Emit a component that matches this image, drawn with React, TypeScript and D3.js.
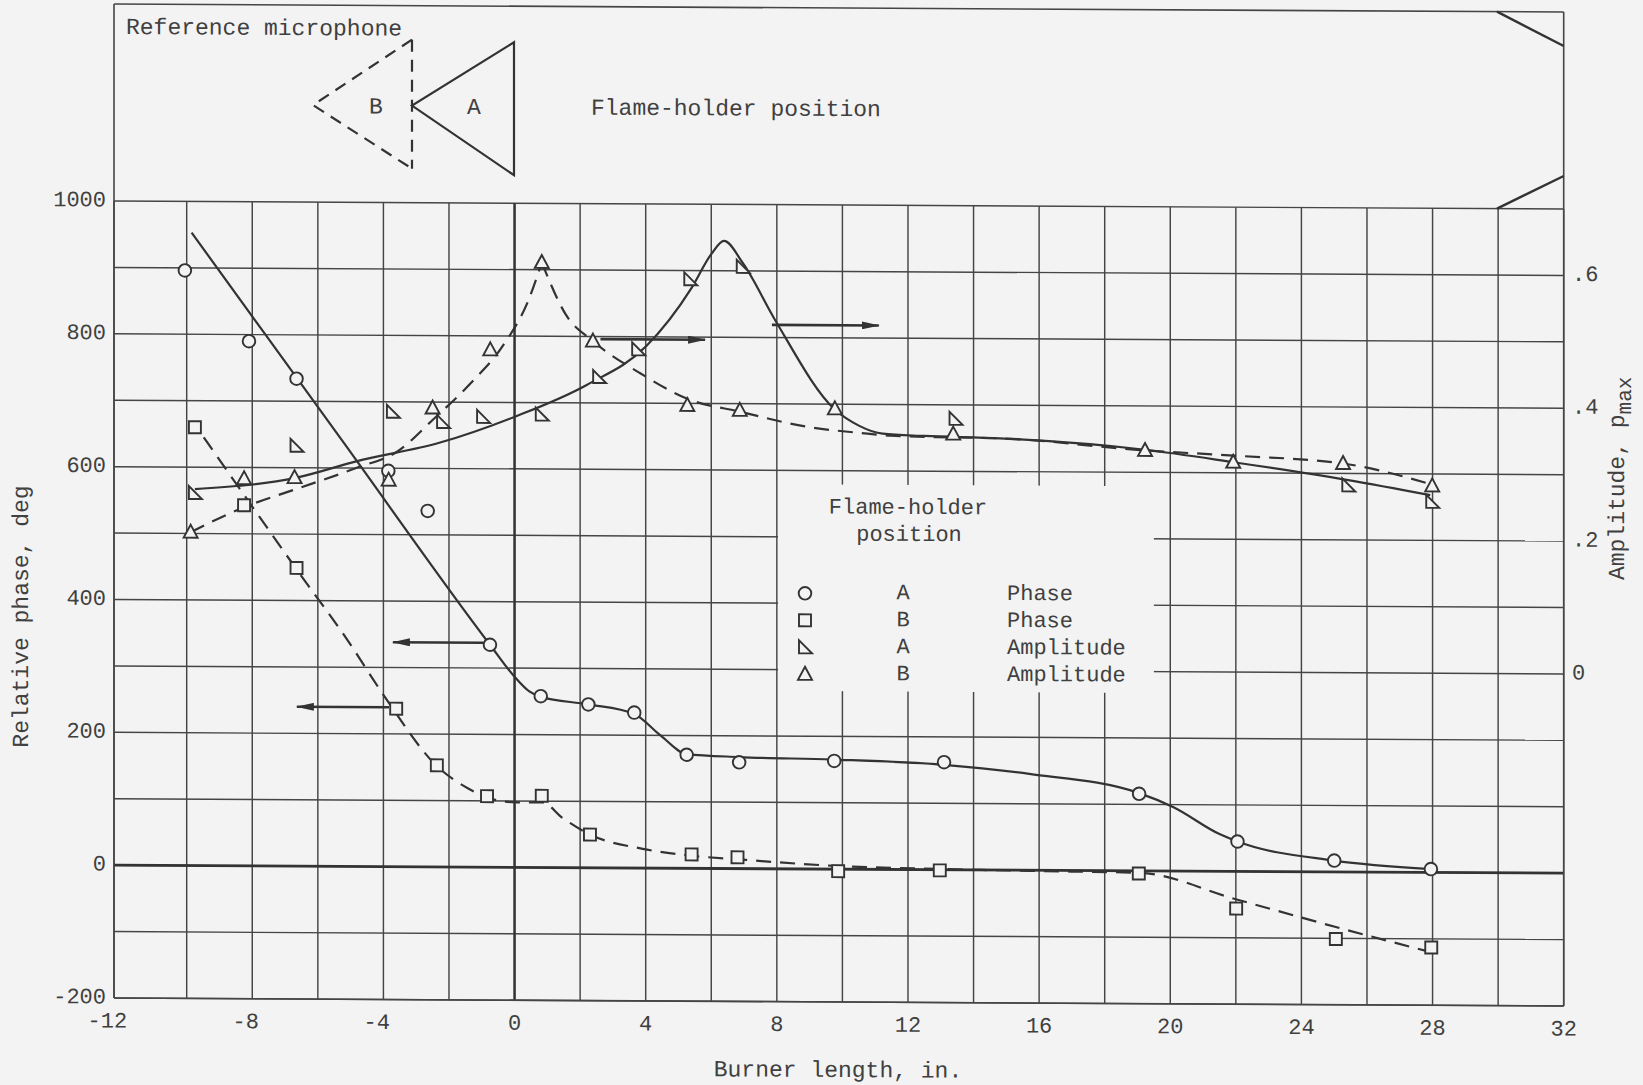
import React from "react";
import * as d3 from "d3";

const WIDTH = 1643;
const HEIGHT = 1085;

// Axis ticks
const xTickValues = [-12, -8, -4, 0, 4, 8, 12, 16, 20, 24, 28, 32];
const phaseTickValues = [-200, 0, 200, 400, 600, 800, 1000];
const ampTickValues = [0, 0.2, 0.4, 0.6];
const ampTickLabels = ["0", ".2", ".4", ".6"];

// Measured relative phase, flame holder at A (circles)
const phaseAX = [-10.05, -8.1, -6.65, -3.85, -2.65, -0.75, 0.8, 2.25, 3.65, 5.25, 6.85, 9.75, 13.1, 19.05, 22.05, 25.0, 27.95];
const phaseAY = [896, 790, 734, 596, 536, 335, 258, 246, 234, 171, 160, 163, 162, 116, 45, 17, 5];

// Measured relative phase, flame holder at B (squares)
const phaseBX = [-9.75, -8.25, -6.65, -3.61, -2.37, -0.84, 0.83, 2.3, 5.4, 6.8, 9.87, 12.97, 19.04, 22.01, 25.05, 27.96];
const phaseBY = [660, 543, 449, 238, 153, 107, 108, 50, 21, 17, -3, -1, -4, -56, -101, -113];

// Measured amplitude, flame holder at A (right triangles)
const ampAX = [-9.75, -6.65, -3.71, -2.18, -0.96, 0.83, 2.58, 3.77, 5.36, 6.96, 13.45, 25.43, 27.99];
const ampAY = [0.261, 0.333, 0.385, 0.37, 0.378, 0.382, 0.439, 0.481, 0.587, 0.606, 0.379, 0.282, 0.258];

// Measured amplitude, flame holder at B (triangles)
const ampBX = [-9.88, -8.25, -6.71, -3.84, -2.5, -0.74, 0.83, 2.39, 5.27, 6.87, 9.77, 13.38, 19.23, 21.92, 25.27, 27.99];
const ampBY = [0.202, 0.283, 0.285, 0.282, 0.391, 0.479, 0.611, 0.493, 0.397, 0.39, 0.393, 0.356, 0.333, 0.316, 0.315, 0.282];

// Faired curves
const phaseAFitX = [-9.85, -5.3, -0.75, 0.0, 0.45, 0.8, 2.25, 3.65, 4.45, 5.25, 6.85, 9.7, 13.1, 15.7, 19.05, 20.1, 21.5, 22.05, 25.0, 27.95];
const phaseAFitY = [953, 644, 335, 287, 265, 257, 246, 232, 200, 172, 168, 165, 158, 145, 117, 96, 56, 45, 17, 5];

const phaseBFitX = [-9.48, -8.1, -6.65, -5.07, -3.99, -2.35, -1.4, -0.79, 0.03, 0.85, 1.46, 2.35, 3.91, 5.41, 6.8, 9.75, 13.1, 15.7, 19.05, 22.0, 25.05, 27.95];
const phaseBFitY = [645, 548, 447, 339, 258, 151, 118, 104, 98, 98, 75, 49, 29, 19, 14, 5, 1, -1, -3, -42, -83, -120];

const ampAFitX = [-9.75, -6.65, -4.83, -2.27, 0.03, 2.2, 4.02, 5.4, 6.0, 6.39, 6.96, 7.95, 9.77, 10.5, 11.23, 12.5, 14.8, 19.23, 21.93, 25.43, 27.93];
const ampAFitY = [0.267, 0.285, 0.31, 0.339, 0.379, 0.427, 0.486, 0.574, 0.625, 0.645, 0.612, 0.526, 0.392, 0.368, 0.356, 0.353, 0.35, 0.334, 0.316, 0.29, 0.268];

const ampBFitRiseX = [-9.88, -8.25, -6.65, -4.83, -3.55, -2.5, -1.31, -0.36, 0.44, 0.83];
const ampBFitRiseY = [0.202, 0.24, 0.268, 0.3, 0.326, 0.373, 0.43, 0.485, 0.556, 0.611];
const ampBFitFallX = [0.83, 1.56, 2.39, 3.8, 5.27, 6.87, 8.9, 10.77, 11.47, 13.38, 14.8, 19.23, 21.93, 25.27, 27.99];
const ampBFitFallY = [0.611, 0.533, 0.493, 0.446, 0.407, 0.388, 0.366, 0.356, 0.353, 0.351, 0.35, 0.333, 0.326, 0.315, 0.284];

// Legend entries
const legendSymbols = ["circle", "square", "triA", "triB"];
const legendPositions = ["A", "B", "A", "B"];
const legendQuantities = ["Phase", "Phase", "Amplitude", "Amplitude"];

const BG = "#f3f3f3";
const INK = "#333333";
const GRID = "#454545";
const TEXT = "#404040";
const FONT = "'Liberation Mono', 'DejaVu Sans Mono', monospace";

const xScale = d3.scaleLinear().domain([-12, -10, 32]).range([114, 186.7, 1563.7]);
const yPhase = d3.scaleLinear().domain([-200, 1000]).range([998, 201]);
const yAmp = d3.scaleLinear().domain([-0.5, 0.7]).range([998, 201]);

const X0 = xScale(-12);
const X1 = xScale(32);
const YTOP = yPhase(1000);
const YBOT = yPhase(-200);
const BOX_TOP = 4;

function curvePath(xs: number[], ys: number[], y: d3.ScaleLinear<number, number>) {
  const gen = d3
    .line<number>()
    .x((d) => xScale(d))
    .y((_, i) => y(ys[i]))
    .curve(d3.curveMonotoneX);
  return gen(xs) || "";
}

function Symbol({ kind, cx, cy }: { kind: string; cx: number; cy: number }) {
  const common = { fill: BG, stroke: INK, strokeWidth: 1.9 };
  if (kind === "circle") return <circle cx={cx} cy={cy} r={6.3} {...common} />;
  if (kind === "square") return <rect x={cx - 6} y={cy - 6} width={12} height={12} {...common} />;
  if (kind === "triA")
    return <path d={`M${cx - 6},${cy - 7} L${cx - 6},${cy + 6} L${cx + 7},${cy + 6} Z`} {...common} />;
  return <path d={`M${cx},${cy - 7.5} L${cx + 7},${cy + 5.5} L${cx - 7},${cy + 5.5} Z`} {...common} />;
}

export default function App() {
  const gridX = d3.range(-12, 33, 2);
  const gridY = d3.range(-200, 1001, 100);

  // legend panel, blanking the grid behind it
  const lgX0 = xScale(8) + 1.2;
  const lgX1 = xScale(19.5);
  const lgY0 = yPhase(579);
  const lgY1 = yPhase(268);

  const skew = `translate(${X0},0) skewY(0.316) translate(${-X0},0)`;

  const arrowsPhase = [
    { from: -0.95, to: -3.71, v: 338 },
    { from: -3.83, to: -6.64, v: 240 },
  ];
  const arrowsAmp = [
    { from: 2.62, to: 5.81, v: 0.496 },
    { from: 7.85, to: 11.11, v: 0.519 },
  ];

  return (
    <svg
      width={WIDTH}
      height={HEIGHT}
      viewBox={`0 0 ${WIDTH} ${HEIGHT}`}
      style={{ position: "absolute", left: 0, top: 0, display: "block" }}
    >
      <defs>
        <marker
          id="arrowHead"
          viewBox="0 0 18 8"
          refX={17}
          refY={4}
          markerWidth={18}
          markerHeight={8}
          markerUnits="userSpaceOnUse"
          orient="auto"
        >
          <path d="M0,0 L18,4 L0,8 Z" fill={INK} />
        </marker>
      </defs>
      <rect x={0} y={0} width={WIDTH} height={HEIGHT} fill={BG} />

      <g transform={skew}>
        {/* grid */}
        <g stroke={GRID} strokeWidth={1.45}>
          {gridX.map((v) => (
            <line key={"gx" + v} x1={xScale(v)} x2={xScale(v)} y1={YTOP} y2={YBOT} />
          ))}
          {gridY.map((v) => (
            <line key={"gy" + v} x1={X0} x2={X1} y1={yPhase(v)} y2={yPhase(v)} />
          ))}
        </g>
        <rect x={lgX0} y={lgY0} width={lgX1 - lgX0} height={lgY1 - lgY0} fill={BG} />

        {/* emphasized zero lines */}
        <line x1={X0} x2={X1} y1={yPhase(0)} y2={yPhase(0)} stroke={INK} strokeWidth={2.8} />
        <line x1={xScale(0)} x2={xScale(0)} y1={YTOP} y2={YBOT} stroke={INK} strokeWidth={2.4} />

        {/* frame including the upper sketch panel */}
        <g stroke={GRID} strokeWidth={1.6} fill="none">
          <line x1={X0} x2={X1} y1={BOX_TOP} y2={BOX_TOP} />
          <line x1={X0} x2={X0} y1={BOX_TOP} y2={YBOT} />
          <line x1={X1} x2={X1} y1={BOX_TOP} y2={YBOT} />
          <line x1={X0} x2={X1} y1={YBOT} y2={YBOT} />
        </g>
        {/* duct corners */}
        <g stroke={INK} strokeWidth={2.4}>
          <line x1={1497} y1={BOX_TOP} x2={X1} y2={38} />
          <line x1={1497} y1={YTOP} x2={X1} y2={168} />
        </g>

        {/* flame holder sketches */}
        <g stroke={INK} strokeWidth={2.2} fill="none">
          <path d="M412,38 L313,104 L412,167" strokeDasharray="12 8" />
          <line x1={412} y1={38} x2={412} y2={167} strokeDasharray="12 8" />
          <path d="M514,40 L412,104 L514,173 Z" />
        </g>
        <g fontFamily={FONT} fontSize={23} fill={TEXT}>
          <text x={126} y={34}>Reference microphone</text>
          <text x={376} y={106} textAnchor="middle" dominantBaseline="central">B</text>
          <text x={474} y={106} textAnchor="middle" dominantBaseline="central">A</text>
          <text x={591} y={106} dominantBaseline="central">Flame-holder position</text>
        </g>

        {/* faired curves */}
        <g fill="none" stroke={INK} strokeWidth={2.2}>
          <path d={curvePath(phaseAFitX, phaseAFitY, yPhase)} />
          <path d={curvePath(phaseBFitX, phaseBFitY, yPhase)} strokeDasharray="15 9" />
          <path d={curvePath(ampAFitX, ampAFitY, yAmp)} />
          <path d={curvePath(ampBFitRiseX, ampBFitRiseY, yAmp)} strokeDasharray="15 9" />
          <path d={curvePath(ampBFitFallX, ampBFitFallY, yAmp)} strokeDasharray="15 9" />
        </g>

        {/* arrows pointing to the relevant axis */}
        <g stroke={INK} strokeWidth={2.6}>
          {arrowsPhase.map((a, i) => (
            <line
              key={"ap" + i}
              x1={xScale(a.from)}
              x2={xScale(a.to)}
              y1={yPhase(a.v)}
              y2={yPhase(a.v)}
              markerEnd="url(#arrowHead)"
            />
          ))}
          {arrowsAmp.map((a, i) => (
            <line
              key={"aa" + i}
              x1={xScale(a.from)}
              x2={xScale(a.to)}
              y1={yAmp(a.v)}
              y2={yAmp(a.v)}
              markerEnd="url(#arrowHead)"
            />
          ))}
        </g>

        {/* data points */}
        {phaseAX.map((v, i) => (
          <Symbol key={"pa" + i} kind="circle" cx={xScale(v)} cy={yPhase(phaseAY[i])} />
        ))}
        {phaseBX.map((v, i) => (
          <Symbol key={"pb" + i} kind="square" cx={xScale(v)} cy={yPhase(phaseBY[i])} />
        ))}
        {ampAX.map((v, i) => (
          <Symbol key={"aa" + i} kind="triA" cx={xScale(v)} cy={yAmp(ampAY[i])} />
        ))}
        {ampBX.map((v, i) => (
          <Symbol key={"ab" + i} kind="triB" cx={xScale(v)} cy={yAmp(ampBY[i])} />
        ))}

        {/* legend */}
        <g fontFamily={FONT} fontSize={22} fill={TEXT}>
          <text x={908} y={504} textAnchor="middle" dominantBaseline="central">Flame-holder</text>
          <text x={909} y={531} textAnchor="middle" dominantBaseline="central">position</text>
          {legendSymbols.map((s, i) => {
            const yy = 589.5 + i * 27;
            return (
              <g key={"lg" + i}>
                <Symbol kind={s} cx={805} cy={yy} />
                <text x={903} y={yy} textAnchor="middle" dominantBaseline="central">
                  {legendPositions[i]}
                </text>
                <text x={1007} y={yy} dominantBaseline="central">
                  {legendQuantities[i]}
                </text>
              </g>
            );
          })}
        </g>

        {/* tick labels */}
        <g fontFamily={FONT} fontSize={22} fill={TEXT}>
          {phaseTickValues.map((v) => (
            <text key={"yt" + v} x={106} y={yPhase(v)} textAnchor="end" dominantBaseline="central">
              {v}
            </text>
          ))}
          {xTickValues.map((v) => {
            const s = String(v);
            const digits = s.replace("-", "").length;
            return (
              <text
                key={"xt" + v}
                x={xScale(v) + digits * 6.6}
                y={1022}
                textAnchor="end"
                dominantBaseline="central"
              >
                {s}
              </text>
            );
          })}
          {ampTickValues.map((v, i) => (
            <text key={"at" + v} x={1572} y={yAmp(v)} dominantBaseline="central">
              {ampTickLabels[i]}
            </text>
          ))}
        </g>

        {/* axis titles */}
        <g fontFamily={FONT} fontSize={23} fill={TEXT}>
          <text x={838} y={1067} textAnchor="middle" dominantBaseline="central">
            Burner length, in.
          </text>
          <text
            transform="translate(22,617) rotate(-90)"
            textAnchor="middle"
            dominantBaseline="central"
          >
            Relative phase, deg
          </text>
          <text
            transform="translate(1618,470) rotate(-90)"
            textAnchor="middle"
            dominantBaseline="central"
          >
            Amplitude, p
            <tspan fontSize={21} dy={7}>max</tspan>
          </text>
        </g>
      </g>
    </svg>
  );
}
